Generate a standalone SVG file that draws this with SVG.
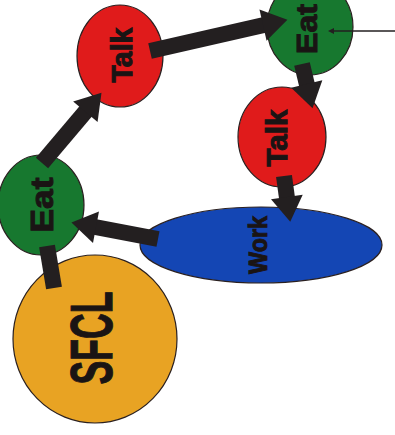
<svg xmlns="http://www.w3.org/2000/svg" width="395" height="435" viewBox="0 0 395 435">
  <style>
    .node { stroke: #2a2020; stroke-width: 1.2; }
    .talk { fill: #e01b1b; }
    .eat { fill: #17782f; }
    .work { fill: #1446b4; }
    .sfcl { fill: #e8a323; }
    .lbl { font-family: "Liberation Sans", Arial, sans-serif; font-weight: bold; fill: #1a1414; stroke: #1a1414; stroke-width: 1; text-anchor: middle; }
    .conn { stroke: #231f20; fill: none; stroke-linecap: butt; }
    .thick { stroke-width: 16; marker-end: url(#head); }
    .thin { stroke-width: 1.5; marker-end: url(#small); }
  </style>
  <defs>
    <marker id="head" markerUnits="userSpaceOnUse" markerWidth="30" markerHeight="36" refX="1" refY="16" orient="auto" overflow="visible">
      <path d="M0,0 L25,16 L0,32 z" fill="#231f20"/>
    </marker>
    <marker id="small" markerUnits="userSpaceOnUse" markerWidth="8" markerHeight="8" refX="0" refY="3" orient="auto" overflow="visible">
      <path d="M0,0 L6,3 L0,6 z" fill="#231f20"/>
    </marker>
  </defs>

  <rect width="395" height="435" fill="#ffffff"/>

  <g id="node-sfcl">
    <ellipse class="node sfcl" cx="95" cy="339" rx="82" ry="84"/>
    <text class="lbl" transform="translate(112,338) rotate(-90)" font-size="60" textLength="93" lengthAdjust="spacingAndGlyphs">SFCL</text>
  </g>
  <g id="node-work">
    <ellipse class="node work" cx="261" cy="245" rx="121" ry="38"/>
    <text class="lbl" transform="translate(267,245) rotate(-90)" font-size="26" textLength="58" lengthAdjust="spacingAndGlyphs">Work</text>
  </g>
  <g id="node-eat-left">
    <ellipse class="node eat" cx="41" cy="205" rx="43" ry="50"/>
    <text class="lbl" transform="translate(53,205) rotate(-90)" font-size="31" textLength="55" lengthAdjust="spacingAndGlyphs">Eat</text>
  </g>
  <g id="node-talk-top">
    <ellipse class="node talk" cx="120" cy="56" rx="43" ry="51"/>
    <text class="lbl" transform="translate(132,55) rotate(-90)" font-size="30" textLength="55" lengthAdjust="spacingAndGlyphs">Talk</text>
  </g>
  <g id="node-eat-top">
    <ellipse class="node eat" cx="310" cy="27" rx="43" ry="48"/>
    <text class="lbl" transform="translate(317,29) rotate(-90)" font-size="29" textLength="50" lengthAdjust="spacingAndGlyphs">Eat</text>
  </g>
  <g id="node-talk-right">
    <ellipse class="node talk" cx="282" cy="137" rx="44" ry="50"/>
    <text class="lbl" transform="translate(287,138) rotate(-90)" font-size="30" textLength="57" lengthAdjust="spacingAndGlyphs">Talk</text>
  </g>

  <g id="connectors">
    <!-- Eat (left) to Talk (top) -->
    <line class="conn thick" x1="42" y1="163" x2="86" y2="111"/>
    <!-- Talk (top) to Eat (top right) -->
    <line class="conn thick" x1="150" y1="51" x2="264" y2="25"/>
    <!-- Eat (top right) to Talk (right) -->
    <line class="conn thick" x1="302" y1="64" x2="307" y2="85"/>
    <!-- Talk (right) to Work -->
    <line class="conn thick" x1="284" y1="176" x2="287" y2="198"/>
    <!-- Work to Eat (left) -->
    <line class="conn thick" x1="158" y1="239" x2="95" y2="227"/>
    <!-- SFCL to Eat (left) -->
    <line class="conn" stroke-width="16" x1="54" y1="288" x2="47" y2="246"/>
    <!-- incoming entry line -->
    <line class="conn thin" x1="395" y1="31" x2="334" y2="31"/>
  </g>
</svg>
